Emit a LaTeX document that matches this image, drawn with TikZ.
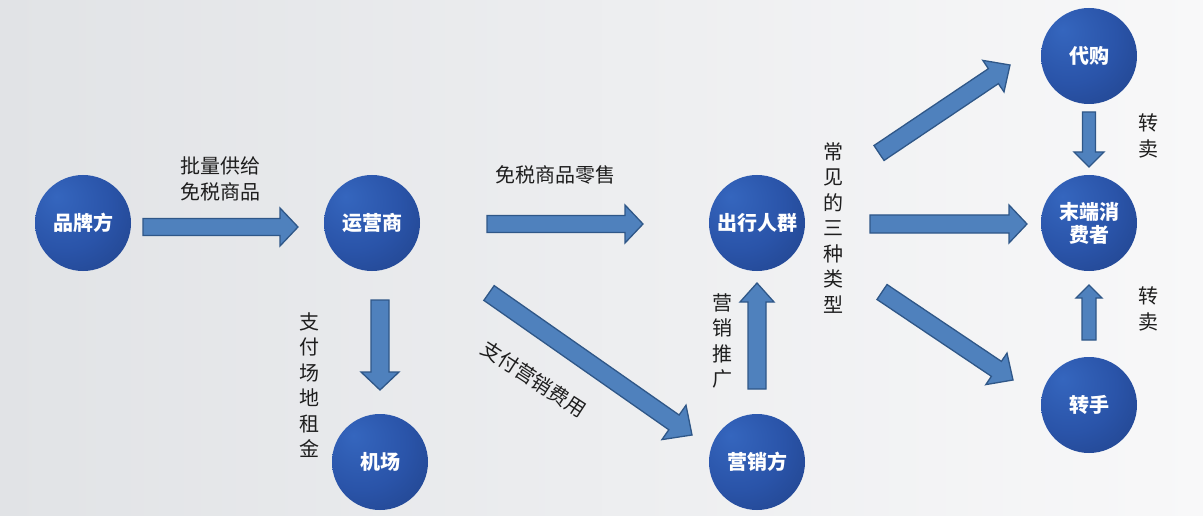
\documentclass[tikz,border=0pt]{standalone}
\usepackage{fontspec}
\setmainfont{Liberation Sans}
\newfontfamily\cjk{Noto Sans CJK SC}
\usetikzlibrary{calc}
\definecolor{bgL}{HTML}{E1E3E6}
\definecolor{bgR}{HTML}{F8F8F9}
\definecolor{ballA}{HTML}{3566BE}
\definecolor{ballB}{HTML}{2A54A9}
\definecolor{ballC}{HTML}{1B3878}
\definecolor{arrFill}{HTML}{4F81BD}
\definecolor{arrLine}{HTML}{2F5788}
\definecolor{txt}{HTML}{1E1E1E}
\pgfdeclareradialshading{nodeball}{\pgfpoint{-14bp}{14bp}}{color(0bp)=(ballA); color(24bp)=(ballB); color(58bp)=(ballC); color(80bp)=(ballC)}
\tikzset{
  ball/.style={circle, minimum size=96pt, inner sep=0pt, shading=nodeball, text=white,
    font=\cjk\bfseries\fontsize{20}{23}\selectfont, align=center},
  lbl/.style={text=txt, font=\cjk\fontsize{20}{26}\selectfont, align=center, inner sep=0pt},
  vlbl/.style={text=txt, font=\cjk\fontsize{20}{25.5}\selectfont, align=center, inner sep=0pt},
  blockarrow/.style={fill=arrFill, draw=arrLine, line width=1.3pt, line join=miter}
}
% \barrow{start}{end}{shaft half}{head half}{head length}
\newcommand\barrow[5]{%
  \path #1 coordinate (ba) #2 coordinate (bb);
  \coordinate (bh) at ($(bb)!#5!(ba)$);
  \draw[blockarrow] ($(ba)!#3!90:(bb)$) -- ($(bh)!#3!-90:(ba)$) -- ($(bh)!#4!-90:(ba)$) -- (bb)
     -- ($(bh)!#4!90:(ba)$) -- ($(bh)!#3!90:(ba)$) -- ($(ba)!#3!-90:(bb)$) -- cycle;
}
\begin{document}
\begin{tikzpicture}[x=1pt,y=-1pt]
\useasboundingbox (0,0) rectangle (1203,516);
\shade[left color=bgL, right color=bgR] (0,0) rectangle (1203,516);

\node[ball] (pp) at (83,223) {品牌方};
\node[ball] (ys) at (372,223) {运营商};
\node[ball] (jc) at (380,462) {机场};
\node[ball] (cx) at (757,223) {出行人群};
\node[ball] (yx) at (757,462) {营销方};
\node[ball] (dg) at (1089,56) {代购};
\node[ball] (md) at (1089,223) {末端消\\费者};
\node[ball] (zs) at (1089,405) {转手};

% arrow end points
\coordinate (a1s) at ($(pp)+(60,4)$);   \coordinate (a1e) at ($(ys)+(-74,4)$);
\coordinate (a2s) at ($(ys)+(115,1)$);  \coordinate (a2e) at ($(cx)+(-114,1)$);
\coordinate (a3s) at ($(ys)+(8,77)$);   \coordinate (a3e) at ($(jc)+(0,-72)$);
\coordinate (a4s) at ($(ys)+(117,70)$); \coordinate (a4e) at ($(yx)+(-65,-27)$);
\coordinate (a5s) at ($(yx)+(0,-73)$);  \coordinate (a5e) at ($(cx)+(0,60)$);
\coordinate (a6s) at ($(cx)+(122,-70)$); \coordinate (a6e) at ($(dg)+(-79,9)$);
\coordinate (a7s) at ($(cx)+(113,1)$);  \coordinate (a7e) at ($(md)+(-62,1)$);
\coordinate (a8s) at ($(cx)+(125,69)$); \coordinate (a8e) at ($(zs)+(-76,-25)$);
\coordinate (a9s) at ($(dg)+(0,56)$);   \coordinate (a9e) at ($(md)+(0,-56)$);
\coordinate (a10s) at ($(zs)+(0,-65)$); \coordinate (a10e) at ($(md)+(0,62)$);

\barrow{(a1s)}{(a1e)}{8.5pt}{19pt}{18pt}
\barrow{(a2s)}{(a2e)}{8.5pt}{19pt}{18pt}
\barrow{(a3s)}{(a3e)}{9pt}{19pt}{18pt}
\barrow{(a4s)}{(a4e)}{9pt}{21pt}{22pt}
\barrow{(a5s)}{(a5e)}{9pt}{17pt}{19pt}
\barrow{(a6s)}{(a6e)}{9pt}{19pt}{20pt}
\barrow{(a7s)}{(a7e)}{9pt}{19pt}{18pt}
\barrow{(a8s)}{(a8e)}{9pt}{19pt}{20pt}
\barrow{(a9s)}{(a9e)}{6.5pt}{15pt}{15pt}
\barrow{(a10s)}{(a10e)}{7pt}{13pt}{13pt}

\node[lbl] (t1) at (220,179) {批量供给\\免税商品};
\node[lbl] (t2) at (555,175) {免税商品零售};
\node[vlbl] (t3) at (309,385) {支\\付\\场\\地\\租\\金};
\node[lbl, rotate=-33] (t4) at (534,379) {支付营销费用};
\node[vlbl] (t5) at (722,341) {营\\销\\推\\广};
\node[vlbl] (t6) at (833,228) {常\\见\\的\\三\\种\\类\\型};
\node[vlbl] (t7) at (1148,136) {转\\卖};
\node[vlbl] (t8) at (1148,309) {转\\卖};
\end{tikzpicture}
\end{document}
